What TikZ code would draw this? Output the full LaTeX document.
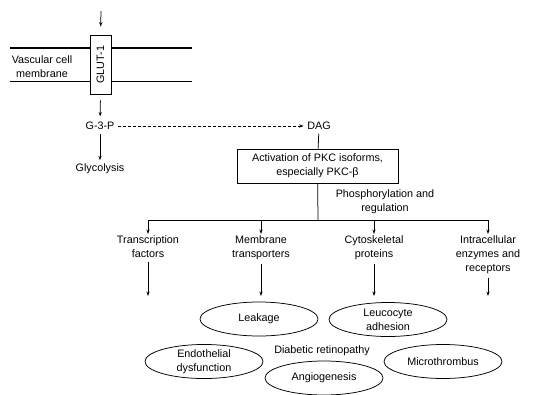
\documentclass[tikz,border=0pt]{standalone}
\usepackage{fontspec}
\setmainfont{Liberation Sans}
\usetikzlibrary{arrows.meta,shapes.geometric}

\begin{document}
\begin{tikzpicture}[x=1pt, y=-1pt, line width=0.75pt,
		every node/.style={font=\fontsize{10.8}{14}\selectfont, align=center},
		arr/.style={-{Stealth[length=4.5pt,width=3.2pt]}},
		target/.style={anchor=north, inner sep=1pt},
		bubble/.style={draw, fill=white, ellipse, minimum width=118pt, minimum height=34pt, inner sep=0pt}]
			%%%%% START %%%%%
			\useasboundingbox (0,0) rectangle (533,394);
			
			% membrane and transporter
			\draw[line width=1.1pt] (10,48) -- (192,48);
			\draw[line width=1.1pt] (10,81.5) -- (192,81.5);
			\node (vcm) at (42,66.5) {Vascular cell\\membrane};
			\node[draw, fill=white, rotate=90, minimum width=59pt, minimum height=21pt, inner sep=0pt] (glut) at (100.5,64.5) {GLUT-1};
			\coordinate (glucose) at (101,11);
			\draw[arr, shorten >=8pt] (glucose) -- (glut.east);
			
			% G-3-P and DAG
			\node (g3p) at (100,126) {G-3-P};
			\node (glyc) at (100,169) {Glycolysis};
			\node (dag) at (319,126) {DAG};
			\draw[arr, shorten <=6pt, shorten >=2pt] (glut.west) -- (g3p);
			\draw[arr] (g3p) -- (glyc);
			\draw[arr, dash pattern=on 3pt off 2pt] (g3p) -- (dag);
			
			\node[draw, minimum width=161pt, minimum height=34pt] (pkc) at (317.5,166) {Activation of PKC isoforms,\\especially PKC-β};
			\draw (dag) -- (pkc);
			
			% branches
			\coordinate (split) at (318,220);
			\coordinate (b1) at (148,220);
			\coordinate (b4) at (488,220);
			\draw (pkc) -- (split);
			\draw (b1) -- (b4);
			\node (phos) at (385,202) {Phosphorylation and\\regulation};
			
			\node[target] (tf) at (148,234) {Transcription\\factors};
			\node[target] (mt) at (261,234) {Membrane\\transporters};
			\node[target] (cp) at (374,234) {Cytoskeletal\\proteins};
			\node[target] (ie) at (488,234) {Intracellular\\enzymes and\\receptors};
			\foreach \t in {tf,mt,cp,ie}{
				\draw[arr] (\t.north |- split) -- (\t.north);
				\coordinate (\t-end) at ([yshift=-296pt]\t.north |- 0,0);
				\draw[arr, shorten <=3pt] (\t.south) -- (\t-end);
			}
			
			% retinopathy
			\node[bubble] (leak) at (259,319) {Leakage};
			\node[bubble] (leuco) at (388,319.5) {Leucocyte\\adhesion};
			\node[bubble] (endo) at (204,361.5) {Endothelial\\dysfunction};
			\node[bubble] (angio) at (324,378) {Angiogenesis};
			\node[bubble] (micro) at (443,361.5) {Microthrombus};
			\node (dr) at (322,351) {Diabetic retinopathy};
			%%%%% END %%%%%
\end{tikzpicture}
\end{document}
